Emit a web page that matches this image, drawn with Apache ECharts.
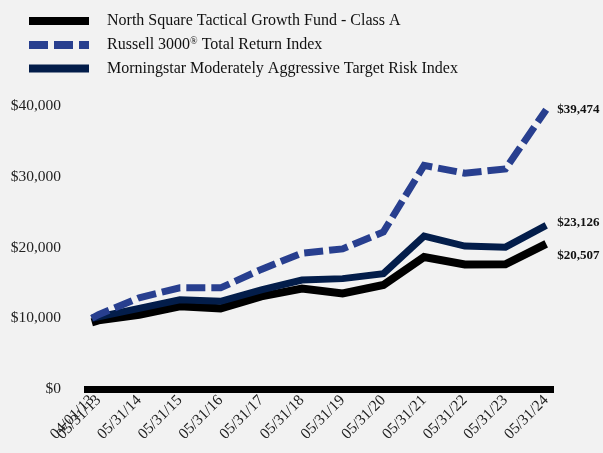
<!DOCTYPE html>
<html>
<head>
<meta charset="utf-8">
<script src="https://cdn.jsdelivr.net/npm/echarts@6/dist/echarts.min.js"></script>
<style>
  html, body { margin: 0; padding: 0; background: #f2f2f2; }
  #chart { width: 603px; height: 453px; }
</style>
</head>
<body>
<div id="chart"></div>
<script>
const dates = ['2013-04-01', '2013-05-31', '2014-05-31', '2015-05-31', '2016-05-31', '2017-05-31',
  '2018-05-31', '2019-05-31', '2020-05-31', '2021-05-31', '2022-05-31', '2023-05-31', '2024-05-31']
const dateLabels = ['04/01/13', '05/31/13', '05/31/14', '05/31/15', '05/31/16', '05/31/17',
  '05/31/18', '05/31/19', '05/31/20', '05/31/21', '05/31/22', '05/31/23', '05/31/24']
const seriesNames = [
  'North Square Tactical Growth Fund - Class A',
  'Russell 3000® Total Return Index',
  'Morningstar Moderately Aggressive Target Risk Index',
]
const fundValues = [9425, 9700, 10500, 11700, 11400, 13100, 14200, 13500, 14700, 18650, 17600, 17630, 20507]
const russellValues = [10000, 10500, 12900, 14300, 14300, 16900, 19200, 19800, 22200, 31600, 30500, 31100, 39474]
const morningstarValues = [10000, 10200, 11400, 12600, 12400, 14000, 15400, 15600, 16300, 21600, 20200, 20050, 23126]

// x positions in days since the first date
const DAY = 24 * 3600 * 1000
function toDays(s) {
  const p = s.split('-').map(Number)
  return Math.round((Date.UTC(p[0], p[1] - 1, p[2]) - Date.UTC(2013, 3, 1)) / DAY)
}
const days = dates.map(toDays)

function pairs(vals) {
  return vals.map((v, i) => [days[i], v])
}
function money(v) {
  return '$' + Number(v).toLocaleString('en-US')
}

const serif = 'Liberation Serif'
const endLabel = (offset) => ({
  show: true,
  formatter: p => money(p.value[1]),
  fontFamily: serif,
  fontWeight: 'bold',
  fontSize: 13,
  color: '#111',
  distance: 11,
  offset: offset,
})

const xLabelStyle = {
  rotate: 45,
  margin: 9,
  fontFamily: serif,
  fontSize: 15.5,
  color: '#222',
  hideOverlap: false,
  showMinLabel: true,
  showMaxLabel: true,
  formatter: v => dateLabels[days.indexOf(v)] || '',
}

// the first two dates sit almost on top of each other, echarts would drop one,
// so the 05/31/13 label lives on a second (invisible) axis
const mainTicks = days.filter((d, i) => i !== 1)
const extraTicks = [days[1]]

const chart = echarts.init(document.getElementById('chart'))
chart.setOption({
  backgroundColor: '#f2f2f2',
  animation: false,
  legend: {
    orient: 'vertical',
    left: 25,
    top: 13,
    padding: 0,
    itemWidth: 60,
    itemHeight: 18,
    itemGap: 7.5,
    itemStyle: { opacity: 0 },
    lineStyle: { width: 8, cap: 'butt' },
    textStyle: {
      fontFamily: serif,
      fontSize: 16,
      color: '#111',
      padding: [0, 0, 0, 13],
      rich: {
        sup: { fontFamily: serif, fontSize: 10, color: '#111', verticalAlign: 'top', padding: [0, 0, 7, 0] },
      },
    },
    formatter: name => name.replace('®', '{sup|®}'),
    data: seriesNames,
  },
  grid: {
    left: 84,
    right: 49,
    top: 106,
    bottom: 64,
  },
  xAxis: [
    {
      type: 'value',
      position: 'bottom',
      min: days[0] - 70,
      max: days[days.length - 1] + 70,
      splitLine: { show: false },
      axisLine: { show: true, onZero: false, lineStyle: { color: '#000', width: 7, cap: 'butt' } },
      axisTick: { show: false },
      axisLabel: Object.assign({ customValues: mainTicks }, xLabelStyle),
    },
    {
      type: 'value',
      position: 'bottom',
      min: days[0] - 70,
      max: days[days.length - 1] + 70,
      splitLine: { show: false },
      axisLine: { show: false, onZero: false },
      axisTick: { show: false },
      axisLabel: Object.assign({ customValues: extraTicks }, xLabelStyle),
    },
  ],
  yAxis: {
    type: 'value',
    min: 0,
    max: 40000,
    interval: 10000,
    splitLine: { show: false },
    axisLine: { show: false },
    axisTick: { show: false },
    axisLabel: {
      margin: 23,
      fontFamily: serif,
      fontSize: 15.5,
      color: '#222',
      formatter: v => money(v),
    },
  },
  series: [
    {
      name: seriesNames[0],
      type: 'line',
      data: pairs(fundValues),
      showSymbol: false,
      symbol: 'none',
      z: 1,
      itemStyle: { color: '#000' },
      lineStyle: { color: '#000', width: 8, cap: 'butt', join: 'miter' },
      endLabel: endLabel([0, 12]),
    },
    {
      name: seriesNames[1],
      type: 'line',
      data: pairs(russellValues),
      showSymbol: false,
      symbol: 'none',
      z: 3,
      itemStyle: { color: '#283f8f' },
      lineStyle: { color: '#283f8f', width: 7, type: [19, 6], cap: 'butt', join: 'miter' },
      endLabel: endLabel([0, 0]),
    },
    {
      name: seriesNames[2],
      type: 'line',
      data: pairs(morningstarValues),
      showSymbol: false,
      symbol: 'none',
      z: 2,
      itemStyle: { color: '#031d4a' },
      lineStyle: { color: '#031d4a', width: 7, cap: 'butt', join: 'miter' },
      endLabel: endLabel([0, -3]),
    },
  ],
})
</script>
</body>
</html>
